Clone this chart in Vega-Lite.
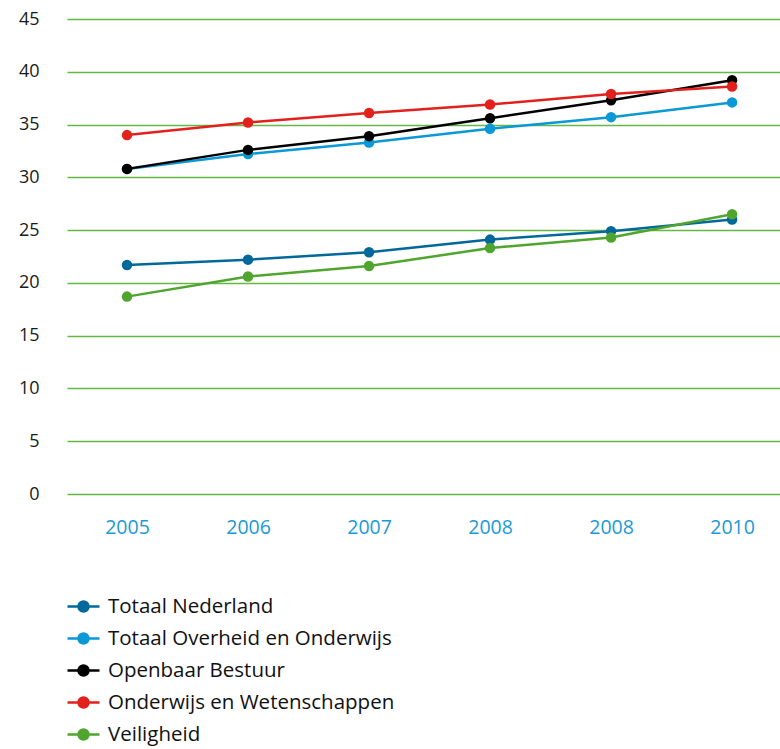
{
  "$schema": "https://vega.github.io/schema/vega-lite/v6.json",
  "width": 713,
  "height": 475,
  "autosize": {"type": "none"},
  "padding": {"left": 67, "top": 19, "right": 0, "bottom": 255},
  "background": "white",
  "config": {"view": {"stroke": null}, "font": "Open Sans"},
  "data": {"values": [
    {"jaar": "2005", "reeks": "Totaal Nederland", "waarde": 21.7},
    {"jaar": "2006", "reeks": "Totaal Nederland", "waarde": 22.2},
    {"jaar": "2007", "reeks": "Totaal Nederland", "waarde": 22.9},
    {"jaar": "2008", "reeks": "Totaal Nederland", "waarde": 24.1},
    {"jaar": "2008 ", "reeks": "Totaal Nederland", "waarde": 24.9},
    {"jaar": "2010", "reeks": "Totaal Nederland", "waarde": 26.0},
    {"jaar": "2005", "reeks": "Totaal Overheid en Onderwijs", "waarde": 30.8},
    {"jaar": "2006", "reeks": "Totaal Overheid en Onderwijs", "waarde": 32.2},
    {"jaar": "2007", "reeks": "Totaal Overheid en Onderwijs", "waarde": 33.3},
    {"jaar": "2008", "reeks": "Totaal Overheid en Onderwijs", "waarde": 34.6},
    {"jaar": "2008 ", "reeks": "Totaal Overheid en Onderwijs", "waarde": 35.7},
    {"jaar": "2010", "reeks": "Totaal Overheid en Onderwijs", "waarde": 37.1},
    {"jaar": "2005", "reeks": "Openbaar Bestuur", "waarde": 30.8},
    {"jaar": "2006", "reeks": "Openbaar Bestuur", "waarde": 32.6},
    {"jaar": "2007", "reeks": "Openbaar Bestuur", "waarde": 33.9},
    {"jaar": "2008", "reeks": "Openbaar Bestuur", "waarde": 35.6},
    {"jaar": "2008 ", "reeks": "Openbaar Bestuur", "waarde": 37.3},
    {"jaar": "2010", "reeks": "Openbaar Bestuur", "waarde": 39.2},
    {"jaar": "2005", "reeks": "Onderwijs en Wetenschappen", "waarde": 34.0},
    {"jaar": "2006", "reeks": "Onderwijs en Wetenschappen", "waarde": 35.2},
    {"jaar": "2007", "reeks": "Onderwijs en Wetenschappen", "waarde": 36.1},
    {"jaar": "2008", "reeks": "Onderwijs en Wetenschappen", "waarde": 36.9},
    {"jaar": "2008 ", "reeks": "Onderwijs en Wetenschappen", "waarde": 37.9},
    {"jaar": "2010", "reeks": "Onderwijs en Wetenschappen", "waarde": 38.6},
    {"jaar": "2005", "reeks": "Veiligheid", "waarde": 18.7},
    {"jaar": "2006", "reeks": "Veiligheid", "waarde": 20.6},
    {"jaar": "2007", "reeks": "Veiligheid", "waarde": 21.6},
    {"jaar": "2008", "reeks": "Veiligheid", "waarde": 23.3},
    {"jaar": "2008 ", "reeks": "Veiligheid", "waarde": 24.3},
    {"jaar": "2010", "reeks": "Veiligheid", "waarde": 26.5}
  ]},
  "encoding": {
    "x": {
      "field": "jaar", "type": "ordinal", "sort": null,
      "scale": {"type": "point", "padding": 0.446, "align": 0.556},
      "axis": {
        "title": null, "domain": false, "ticks": false, "grid": false,
        "labelAngle": 0, "labelColor": "#1a9ad6", "labelFontSize": 19.5,
        "labelPadding": 24, "labelExpr": "trim(datum.label)"
      }
    },
    "y": {
      "field": "waarde", "type": "quantitative",
      "scale": {"domain": [0, 45], "nice": false},
      "axis": {
        "title": null, "domain": false, "ticks": false, "values": [0,5,10,15,20,25,30,35,40,45],
        "grid": true, "gridColor": "#66b844", "gridWidth": 1.5, "gridOpacity": 1,
        "labelColor": "#1a1a1a", "labelFontSize": 18, "labelPadding": 28
      }
    },
    "color": {
      "field": "reeks", "type": "nominal",
      "scale": {
        "domain": ["Totaal Nederland", "Totaal Overheid en Onderwijs", "Openbaar Bestuur", "Onderwijs en Wetenschappen", "Veiligheid"],
        "range": ["#01689b", "#0a98d6", "#000000", "#e2201c", "#4fa52e"]
      },
      "legend": {
        "title": null, "orient": "none", "legendX": 5, "legendY": 576,
        "direction": "vertical",
        "symbolType": "M-1.6,0L1.6,0M-0.5,0A0.5,0.5 0 1,1 0.5,0A0.5,0.5 0 1,1 -0.5,0Z",
        "symbolSize": 400, "symbolStrokeWidth": 2.5, "symbolOpacity": 1,
        "labelFontSize": 20.5, "labelColor": "#111111", "labelOffset": 13,
        "labelLimit": 0, "rowPadding": 10
      }
    }
  },
  "layer": [
    {"mark": {"type": "line", "strokeWidth": 2.5}},
    {"mark": {"type": "circle", "size": 110, "opacity": 1}}
  ]
}
